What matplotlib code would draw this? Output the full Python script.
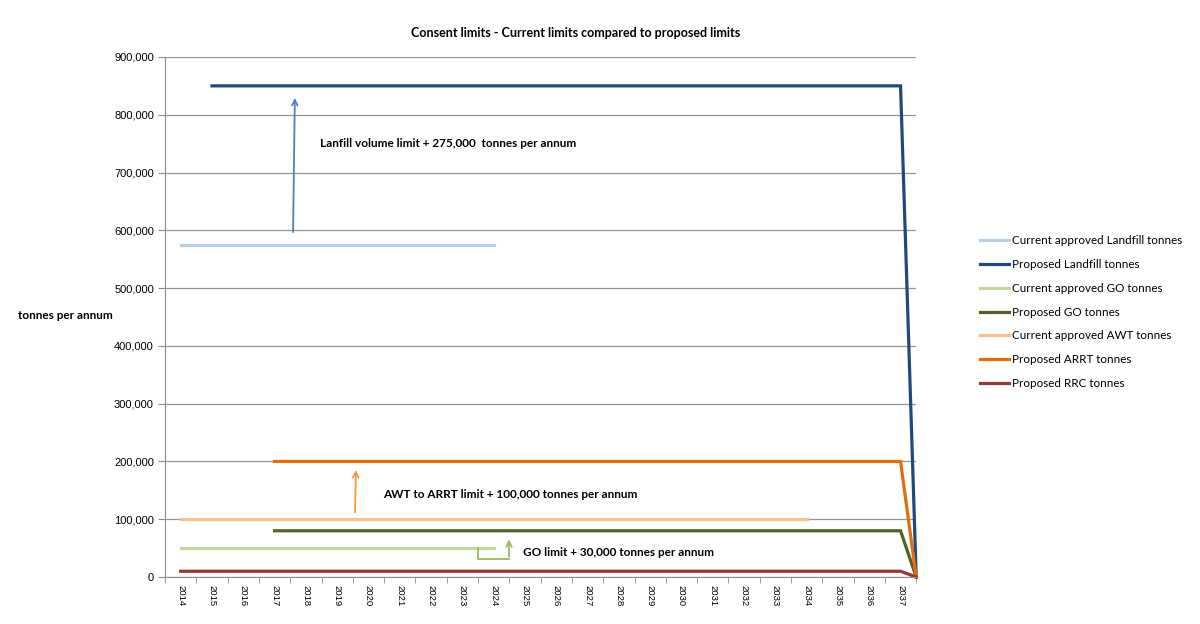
import numpy as np
from matplotlib import pyplot as plt
from matplotlib.ticker import FuncFormatter, FixedLocator

plt.rcParams['font.family'] = ['Lato', 'DejaVu Sans']

years = [str(y) for y in range(2014, 2038)]
n = len(years)
nan = np.nan

# one value per year, plus the closing point where the proposed limits end
current_landfill = [575000] * 11 + [nan] * 13 + [nan]
proposed_landfill = [nan] + [850000] * 23 + [0]
current_go = [50000] * 11 + [nan] * 13 + [nan]
proposed_go = [nan] * 3 + [80000] * 21 + [0]
current_awt = [100000] * 21 + [nan] * 3 + [nan]
proposed_arrt = [nan] * 3 + [200000] * 21 + [0]
proposed_rrc = [10000] * 24 + [0]

series = [
    ('Current approved Landfill tonnes', current_landfill, '#b9cde5'),
    ('Proposed Landfill tonnes', proposed_landfill, '#1f497d'),
    ('Current approved GO tonnes', current_go, '#c3d69b'),
    ('Proposed GO tonnes', proposed_go, '#4f6228'),
    ('Current approved AWT tonnes', current_awt, '#fac090'),
    ('Proposed ARRT tonnes', proposed_arrt, '#e46c0a'),
    ('Proposed RRC tonnes', proposed_rrc, '#953735'),
]

# x positions: category index, last point sits on the right edge of the axis
x = np.array(list(range(n)) + [n - 0.5])

fig = plt.figure(figsize=(12, 6.24), dpi=100)
ax = fig.add_axes([0.1375, 0.0753, 0.626, 0.8334])

handles = []
for name, vals, col in series:
    h, = ax.plot(x, np.array(vals, dtype=float), color=col, lw=2.3,
                 solid_joinstyle='miter', label=name, clip_on=False)
    handles.append(h)

ax.set_xlim(-0.5, n - 0.5)
ax.set_ylim(0, 900000)
ax.yaxis.set_major_locator(FixedLocator(np.arange(0, 900001, 100000)))
ax.yaxis.set_major_formatter(FuncFormatter(lambda v, p: f'{int(v):,}'))
ax.grid(axis='y', color='#969696', lw=0.9)
ax.set_axisbelow(True)

ax.set_xticks(range(n))
ax.set_xticklabels(years, rotation=270, fontsize=6.8, family=['Liberation Sans'])
ax.set_xticks(np.arange(-0.5, n, 1.0), minor=True)
ax.tick_params(axis='x', which='major', length=0, pad=6)
ax.tick_params(axis='x', which='minor', length=4, color='#8c8c8c')
ax.tick_params(axis='y', length=5, color='#8c8c8c', labelsize=8, pad=3)
for lab in ax.get_yticklabels():
    lab.set_family(['Liberation Sans'])

for s in ['top', 'right']:
    ax.spines[s].set_visible(False)
ax.spines['left'].set_color('#8c8c8c')
ax.spines['bottom'].set_color('#8c8c8c')

fig.text(0.48, 0.947, 'Consent limits - Current limits compared to proposed limits',
         ha='center', va='center', fontsize=9, fontweight='bold')
fig.text(0.015, 0.495, 'tonnes per annum', ha='left', va='center',
         fontsize=8.5, fontweight='bold')

# annotations
ax.annotate('', xy=(3.65, 834000), xytext=(3.59, 592000),
            arrowprops=dict(arrowstyle='->', color='#4f81bd', lw=1.3))
ax.text(4.45, 751000, 'Lanfill volume limit + 275,000  tonnes per annum',
        fontsize=8.5, fontweight='bold', va='center')

ax.annotate('', xy=(5.6, 190000), xytext=(5.57, 107000),
            arrowprops=dict(arrowstyle='->', color='#f79646', lw=1.3))
ax.text(6.47, 143500, 'AWT to ARRT limit + 100,000 tonnes per annum',
        fontsize=8.5, fontweight='bold', va='center')

ax.plot([9.5, 9.5, 10.49], [50000, 31000, 31000], color='#9bbb59', lw=1.3)
ax.annotate('', xy=(10.49, 70000), xytext=(10.49, 30400),
            arrowprops=dict(arrowstyle='->', color='#9bbb59', lw=1.3))
ax.text(10.94, 43000, 'GO limit + 30,000 tonnes per annum',
        fontsize=8.5, fontweight='bold', va='center')

fig.legend(handles=handles, loc='upper left', bbox_to_anchor=(0.808, 0.64),
           frameon=False, fontsize=8.4, handlelength=2.5, handletextpad=0.2,
           labelspacing=1.1)

fig.savefig('out.png', dpi=100)
